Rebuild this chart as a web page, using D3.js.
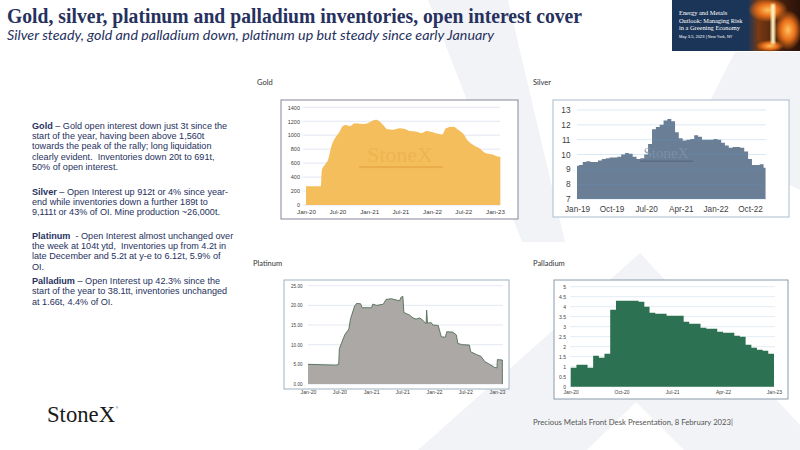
<!DOCTYPE html>
<html>
<head>
<meta charset="utf-8">
<script src="https://cdn.jsdelivr.net/npm/d3@7"></script>
<style>
  body { margin: 0; background: #fff; }
  svg { display: block; font-family: "Liberation Sans", Arial, sans-serif; }
  .para { white-space: pre; }
</style>
</head>
<body>
<svg width="800" height="450"></svg>
<script>
// **** chart data ****
var goldDates = ["2020-01-01","2020-03-27","2020-04-02","2020-04-21","2020-05-08","2020-05-28","2020-06-15","2020-07-11","2020-08-01","2020-08-19",
  "2020-09-12","2020-10-09","2020-11-18","2020-12-12","2021-01-07","2021-02-09","2021-03-01","2021-03-22","2021-04-18","2021-05-19",
  "2021-06-28","2021-07-28","2021-08-25","2021-10-04","2021-11-01","2021-12-01","2022-01-10","2022-02-06","2022-03-01","2022-03-22",
  "2022-05-04","2022-06-01","2022-07-01","2022-07-28","2022-08-28","2022-10-04","2022-11-10","2022-12-22","2023-01-10","2023-02-01"];
var goldValues = [270,270,500,580,650,850,950,1040,1130,1145,
  1130,1170,1160,1165,1190,1220,1200,1150,1085,1080,
  1100,1090,1060,1050,1030,1060,1040,1020,1010,1100,
  1120,1080,1020,920,860,810,740,720,700,690];
var goldXTicks = ["2020-01-01","2020-07-01","2021-01-01","2021-07-01","2022-01-01","2022-07-01","2023-01-01"];
var goldYTicks = [0,200,400,600,800,1000,1200,1400];

var silverDates = ["2019-01","2019-02","2019-03","2019-04","2019-05","2019-06","2019-07","2019-08","2019-09","2019-10",
  "2019-11","2019-12","2020-01","2020-02","2020-03","2020-04","2020-05","2020-06","2020-07","2020-08",
  "2020-09","2020-10","2020-11","2020-12","2021-01","2021-02","2021-03","2021-04","2021-05","2021-06",
  "2021-07","2021-08","2021-09","2021-10","2021-11","2021-12","2022-01","2022-02","2022-03","2022-04",
  "2022-05","2022-06","2022-07","2022-08","2022-09","2022-10","2022-11","2022-12","2023-01","2023-02"];
var silverValues = [9.25,9.3,9.5,9.55,9.5,9.5,9.6,9.7,9.75,9.8,
  9.8,9.85,10.0,10.1,10.05,9.85,9.7,9.75,10.0,10.7,
  11.7,11.85,12.0,12.3,12.4,12.25,11.5,11.1,10.95,11.0,
  11.05,11.3,11.2,11.0,11.0,11.0,11.05,11.0,10.8,10.6,
  10.45,10.5,10.5,10.45,10.2,9.7,9.3,9.3,9.35,9.1];
var silverXTicks = ["2019-01","2019-10","2020-07","2021-04","2022-01","2022-10"];
var silverYTicks = [7,8,9,10,11,12,13];

var platDates = ["2020-01-01","2020-06-12","2020-06-27","2020-07-01","2020-08-01","2020-08-25","2020-09-03","2020-09-27","2020-10-09","2020-11-01",
  "2020-11-10","2021-01-04","2021-01-10","2021-02-03","2021-03-13","2021-03-28","2021-04-28","2021-06-01","2021-06-16","2021-06-22",
  "2021-07-04","2021-07-10","2021-08-13","2021-09-01","2021-09-19","2021-10-10","2021-10-28","2021-11-16","2021-11-19","2021-11-24",
  "2021-12-16","2021-12-25","2022-01-25","2022-02-12","2022-03-07","2022-03-16","2022-04-19","2022-05-10","2022-05-19","2022-06-16",
  "2022-07-25","2022-08-01","2022-09-04","2022-10-01","2022-10-22","2022-11-19","2022-12-19","2023-01-01","2023-01-03","2023-02-01"];
var platValues = [5.0,4.8,5.0,9.0,12.5,14.0,16.5,19.8,20.5,20.4,
  19.4,19.4,20.3,20.0,20.3,21.5,21.7,21.3,21.2,22.0,
  22.3,18.2,17.5,16.8,16.5,16.8,16.2,15.3,18.8,15.5,
  15.6,15.0,14.9,12.0,11.9,13.3,13.2,12.5,10.3,10.0,
  9.9,8.2,7.5,7.0,5.7,5.0,4.2,4.1,6.2,6.1];
var platXTicks = ["2020-01-01","2020-07-01","2021-01-01","2021-07-01","2022-01-01","2022-07-01","2023-01-01"];
var platYTicks = [0,5,10,15,20,25];

var pallDates = ["2020-01","2020-02","2020-03","2020-04","2020-05","2020-06","2020-07","2020-08","2020-09","2020-10",
  "2020-11","2020-12","2021-01","2021-02","2021-03","2021-04","2021-05","2021-06","2021-07","2021-08",
  "2021-09","2021-10","2021-11","2021-12","2022-01","2022-02","2022-03","2022-04","2022-05","2022-06",
  "2022-07","2022-08","2022-09","2022-10","2022-11","2022-12","2023-01"];
var pallValues = [0.95,1.1,1.1,0.95,1.55,1.45,1.65,3.85,4.3,4.3,
  4.3,4.3,4.25,4.0,3.7,3.65,3.65,3.55,3.55,3.55,
  3.25,3.15,3.15,2.95,2.9,2.9,2.75,2.7,2.7,2.55,
  2.5,2.1,1.95,1.85,1.8,1.65,1.65];
var pallXTicks = ["2020-01","2020-10","2021-07","2022-04","2023-01"];
var pallYTicks = [0,0.5,1,1.5,2,2.5,3,3.5,4,4.5,5];

// **** helpers ****
var parseDay = d3.timeParse("%Y-%m-%d");
var parseMonth = d3.timeParse("%Y-%m");
function parseDate(s) { return s.length === 7 ? parseMonth(s) : parseDay(s); }
var monFmt = d3.timeFormat("%b-%y");

var svg = d3.select('svg');
var navy = '#26315e';

// **** background watermark X ****
var wm = svg.append('g').attr('fill', '#f2f3f6');
wm.append('polygon').attr('points', '428,0 508,0 565,242 522,242');
wm.append('polygon').attr('points', '640,253 800,425 800,450 684,450 636,402 587,450 418,450');
wm.append('polygon').attr('points', '735,52 800,52 800,190 690,140');

// **** title ****
svg.append('text').attr('x', 7).attr('y', 23)
  .attr('font-family', '"Liberation Serif", serif').attr('font-weight', 'bold')
  .attr('font-size', 20).attr('fill', navy)
  .attr('textLength', 575).attr('lengthAdjust', 'spacingAndGlyphs')
  .text('Gold, silver, platinum and palladium inventories, open interest cover');
svg.append('text').attr('x', 7).attr('y', 39.5)
  .attr('font-family', 'Lato, sans-serif').attr('font-style', 'italic')
  .attr('font-size', 13.5).attr('fill', navy)
  .attr('textLength', 487).attr('lengthAdjust', 'spacingAndGlyphs')
  .text('Silver steady, gold and palladium down, platinum up but steady since early January');

// **** event banner top right ****
var defs = svg.append('defs');
var fg = defs.append('linearGradient').attr('id', 'fireBase').attr('x1', 0).attr('x2', 1).attr('y1', 0).attr('y2', 0);
fg.append('stop').attr('offset', 0).attr('stop-color', '#1b3558');
fg.append('stop').attr('offset', 0.2).attr('stop-color', '#7a3a12');
fg.append('stop').attr('offset', 0.55).attr('stop-color', '#4a220e');
fg.append('stop').attr('offset', 1).attr('stop-color', '#2a1208');
var rg = defs.append('radialGradient').attr('id', 'glow');
rg.append('stop').attr('offset', 0).attr('stop-color', '#ffc25e');
rg.append('stop').attr('offset', 0.5).attr('stop-color', '#e8701a');
rg.append('stop').attr('offset', 1).attr('stop-color', '#e8701a').attr('stop-opacity', 0);
defs.append('filter').attr('id', 'soft').append('feGaussianBlur').attr('stdDeviation', 1);

svg.append('rect').attr('x', 672).attr('y', 0).attr('width', 128).attr('height', 51).attr('fill', '#1b3558');
svg.append('rect').attr('x', 748).attr('y', 0).attr('width', 52).attr('height', 51).attr('fill', 'url(#fireBase)');
svg.append('ellipse').attr('cx', 768).attr('cy', 10).attr('rx', 20).attr('ry', 12).attr('fill', 'url(#glow)');
svg.append('ellipse').attr('cx', 788).attr('cy', 30).attr('rx', 14).attr('ry', 20).attr('fill', 'url(#glow)');
svg.append('ellipse').attr('cx', 770).attr('cy', 46).attr('rx', 14).attr('ry', 6).attr('fill', 'url(#glow)');
svg.append('rect').attr('x', 771).attr('y', 4).attr('width', 4).attr('height', 40)
  .attr('fill', '#fff4c0').attr('filter', 'url(#soft)');
var bannerLines = ['Energy and Metals', 'Outlook: Managing Risk', 'in a Greening Economy'];
bannerLines.forEach(function(t, i) {
  svg.append('text').attr('x', 679).attr('y', 15 + i * 7.6)
    .attr('font-family', '"Liberation Serif", serif').attr('font-size', 6.4)
    .attr('fill', '#fff').text(t);
});
svg.append('text').attr('x', 679).attr('y', 38.2)
  .attr('font-size', 4).attr('fill', '#fff').text('May 3-5, 2023 | New York, NY');

// **** commentary on the left ****
var paragraphs = [
  { y: 128.5, head: 'Gold', lines: [' – Gold open interest down just 3t since the', 'start of the year, having been above 1,560t',
      'towards the peak of the rally; long liquidation', 'clearly evident.  Inventories down 20t to 691t,', '50% of open interest.'] },
  { y: 194.5, head: 'Silver', lines: [' – Open Interest up 912t or 4% since year-', 'end while inventories down a further 189t to',
      '9,111t or 43% of OI. Mine production ~26,000t.'] },
  { y: 238.5, head: 'Platinum', lines: ['  - Open Interest almost unchanged over', 'the week at 104t ytd,  Inventories up from 4.2t in',
      'late December and 5.2t at y-e to 6.12t, 5.9% of', 'OI.'] },
  { y: 284, head: 'Palladium', lines: [' – Open Interest up 42.3% since the', 'start of the year to 38.1tt, inventories unchanged',
      'at 1.66t, 4.4% of OI.'] }
];
paragraphs.forEach(function(p) {
  p.lines.forEach(function(line, i) {
    var t = svg.append('text').attr('class', 'para').attr('x', 32).attr('y', p.y + i * 10.4)
      .attr('font-size', 9.1).attr('fill', navy);
    if (i === 0) t.append('tspan').attr('font-weight', 'bold').text(p.head);
    t.append('tspan').text(line);
  });
});

// **** chart labels ****
[['Gold', 257, 85], ['Silver', 533, 85], ['Platinum', 253, 266], ['Palladium', 533, 266]].forEach(function(l) {
  svg.append('text').attr('x', l[1]).attr('y', l[2]).attr('font-family', 'Lato, sans-serif')
    .attr('font-size', 7.5).attr('fill', '#333').text(l[0]);
});

// **** generic area chart ****
function drawChart(o) {
  var data = d3.zip(o.dates, o.values).map(function(d) { return { date: parseDate(d[0]), v: d[1] }; });
  var x = d3.scaleTime().domain([parseDate(o.x0), parseDate(o.x1)]).range(o.xRange);
  var y = d3.scaleLinear().domain([o.yTicks[0], o.yTicks[o.yTicks.length - 1]]).range(o.yRange);
  var g = svg.append('g');

  g.append('rect').attr('x', o.box[0]).attr('y', o.box[1]).attr('width', o.box[2]).attr('height', o.box[3])
    .attr('fill', '#fff').attr('stroke', o.boxColor).attr('stroke-width', 1);

  function grid() {
    g.append('g').selectAll('line').data(o.yTicks).enter().append('line')
      .attr('x1', o.gridX[0]).attr('x2', o.gridX[1])
      .attr('y1', function(d) { return y(d); }).attr('y2', function(d) { return y(d); })
      .attr('stroke', o.gridColor).attr('stroke-width', 0.8);
  }
  if (!o.gridOnTop) grid();

  var area = d3.area().curve(o.curve)
    .x(function(d) { return x(d.date); })
    .y0(y(o.yTicks[0]))
    .y1(function(d) { return y(d.v); });
  g.append('path').datum(data).attr('d', area).attr('fill', o.fill);
  if (o.stroke) {
    var line = d3.line().curve(o.curve)
      .x(function(d) { return x(d.date); }).y(function(d) { return y(d.v); });
    g.append('path').datum(data).attr('d', line).attr('fill', 'none')
      .attr('stroke', o.stroke).attr('stroke-width', 0.9);
    var last = data[data.length - 1];
    g.append('line').attr('x1', x(last.date)).attr('x2', x(last.date))
      .attr('y1', y(last.v)).attr('y2', y(o.yTicks[0]))
      .attr('stroke', o.stroke).attr('stroke-width', 0.9);
  }
  if (o.gridOnTop) grid();

  if (o.watermark) o.watermark(g);

  var ya = g.append('g').attr('transform', 'translate(' + o.yLabelX + ',0)')
    .call(d3.axisLeft(y).tickValues(o.yTicks).tickFormat(o.yFormat).tickSize(0).tickPadding(0));
  ya.select('.domain').remove();
  ya.selectAll('text').attr('font-size', o.fontY).attr('fill', '#404040')
    .attr('font-family', '"Liberation Sans", Arial, sans-serif');

  var xa = g.append('g').attr('transform', 'translate(0,' + o.xLabelY + ')')
    .call(d3.axisBottom(x).tickValues(o.xTicks.map(parseDate)).tickFormat(monFmt).tickSize(0).tickPadding(0));
  xa.select('.domain').remove();
  xa.selectAll('text').attr('y', 0).attr('dy', null).attr('font-size', o.fontX).attr('fill', '#404040')
    .attr('font-family', '"Liberation Sans", Arial, sans-serif');
}

drawChart({
  dates: goldDates, values: goldValues, xTicks: goldXTicks, yTicks: goldYTicks,
  x0: '2020-01-01', x1: '2023-01-01', xRange: [306, 495], yRange: [205, 107.3],
  box: [281, 100, 237, 119], boxColor: '#85869a', gridX: [303, 500], gridColor: '#dcdff0',
  yLabelX: 300, xLabelY: 213.5, fontY: 5.5, fontX: 6.2, yFormat: d3.format('d'),
  fill: '#f5be5d', curve: d3.curveMonotoneX,
  watermark: function(g) {
    g.append('text').attr('x', 400).attr('y', 162).attr('text-anchor', 'middle')
      .attr('font-family', '"Liberation Serif", serif').attr('font-size', 22)
      .attr('fill', '#edb452').text('StoneX');
    g.append('rect').attr('x', 359).attr('y', 166).attr('width', 84).attr('height', 2.2).attr('fill', '#e9ad4c');
  }
});

drawChart({
  dates: silverDates, values: silverValues, xTicks: silverXTicks, yTicks: silverYTicks,
  x0: '2019-01', x1: '2022-10', xRange: [577, 750], yRange: [199, 110],
  box: [553, 100, 236, 117], boxColor: '#a9bccd', gridX: [577, 766], gridColor: 'rgba(91,155,213,0.28)',
  gridOnTop: true, yLabelX: 570.5, xLabelY: 211.5, fontY: 8.3, fontX: 8.2, yFormat: d3.format('d'),
  fill: '#6a7f96', curve: d3.curveStep,
  watermark: function(g) {
    g.append('text').attr('x', 666).attr('y', 158).attr('text-anchor', 'middle')
      .attr('font-family', '"Liberation Serif", serif').attr('font-size', 15)
      .attr('fill', '#8193a8').attr('opacity', 0.8).text('StoneX');
    g.append('rect').attr('x', 640).attr('y', 160.5).attr('width', 53).attr('height', 1.5).attr('fill', '#5a6d82');
  }
});

drawChart({
  dates: platDates, values: platValues, xTicks: platXTicks, yTicks: platYTicks,
  x0: '2020-01-01', x1: '2023-01-01', xRange: [308, 497], yRange: [384, 285.7],
  box: [284, 280, 225, 109], boxColor: '#9fb0bf', gridX: [308, 503], gridColor: '#dde2f0',
  yLabelX: 302.5, xLabelY: 393.5, fontY: 4.6, fontX: 5.2, yFormat: d3.format('.2f'),
  fill: '#aba8a5', stroke: '#526e58', curve: d3.curveLinear
});

drawChart({
  dates: pallDates, values: pallValues, xTicks: pallXTicks, yTicks: pallYTicks,
  x0: '2020-01', x1: '2023-01', xRange: [570.7, 774], yRange: [386.7, 286.7],
  box: [554, 280, 234, 119], boxColor: '#8a99ab', gridX: [570, 775], gridColor: '#dbe7f3',
  yLabelX: 566, xLabelY: 394, fontY: 5, fontX: 5, yFormat: function(d) { return String(d); },
  fill: '#2c7151', curve: d3.curveStepAfter
});

// **** footer ****
svg.append('text').attr('x', 47).attr('y', 422)
  .attr('font-family', '"Liberation Serif", serif').attr('font-size', 23)
  .attr('fill', '#1a1a1a').attr('textLength', 68).attr('lengthAdjust', 'spacingAndGlyphs').text('StoneX');
svg.append('text').attr('x', 116).attr('y', 409).attr('font-size', 3).attr('fill', '#1a1a1a').text('®');
svg.append('text').attr('x', 533).attr('y', 425)
  .attr('font-family', 'Lato, sans-serif').attr('font-size', 8.3).attr('fill', '#555')
  .attr('textLength', 200).attr('lengthAdjust', 'spacingAndGlyphs')
  .text('Precious Metals Front Desk Presentation, 8 February 2023|');
</script>
</body>
</html>
